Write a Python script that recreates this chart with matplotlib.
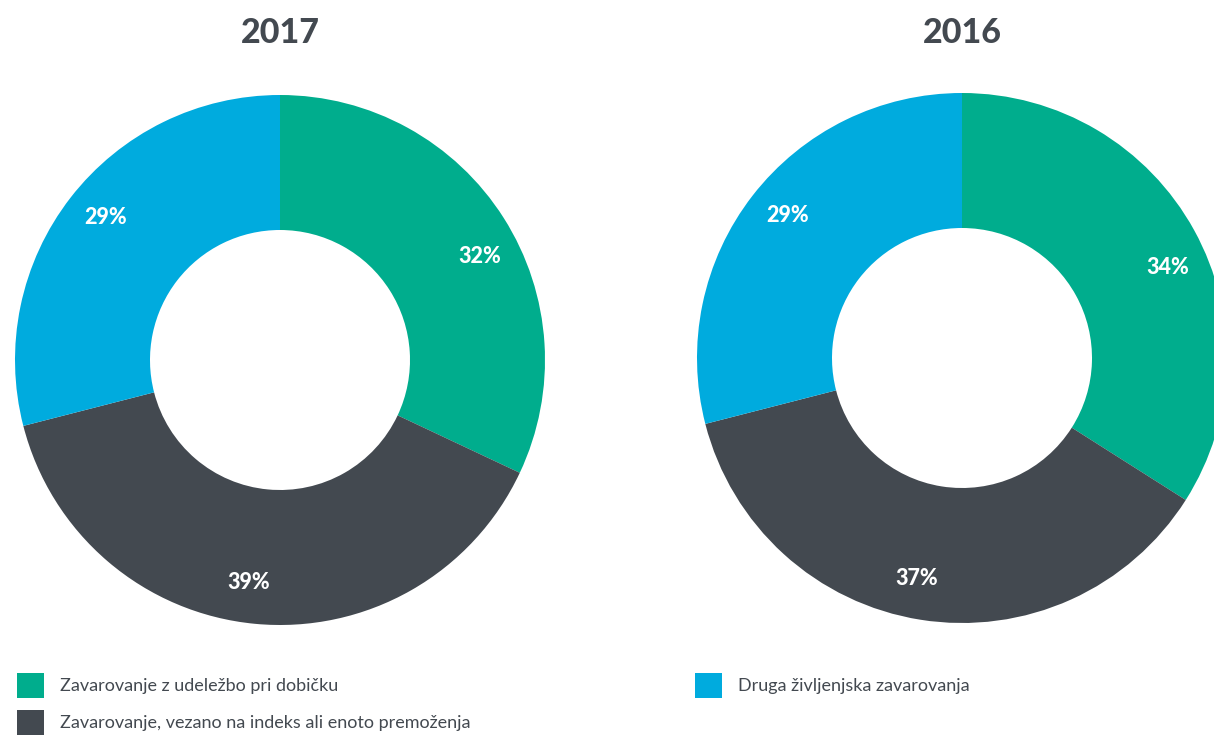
import matplotlib.pyplot as plt
import numpy as np

plt.rcParams['font.family'] = ['Lato', 'DejaVu Sans']

categories = ['Zavarovanje z udeležbo pri dobičku',
              'Zavarovanje, vezano na indeks ali enoto premoženja',
              'Druga življenjska zavarovanja']
years = ['2017', '2016']
values_2017 = [32, 39, 29]
values_2016 = [34, 37, 29]

colors = ['#00ad8d', '#434950', '#00abde']
text_col = '#434950'

W, H = 1214, 736
fig = plt.figure(figsize=(W / 100, H / 100), dpi=100)
ax = fig.add_axes([0, 0, 1, 1])

R = 265
ring = 135
centers = [(280, H - 360), (962, H - 358)]
label_shift = [-5, -2.5, -1.5]   # small angular nudges (degrees) for labels

all_wedges = []
for year, vals, c in zip(years, [values_2017, values_2016], centers):
    wedges, _ = ax.pie(vals, colors=colors, startangle=90, counterclock=False,
                       radius=R, center=c,
                       wedgeprops=dict(width=ring, linewidth=0))
    all_wedges.append(wedges)
    # percentage labels along each wedge's middle angle
    for w, v, s in zip(wedges, vals, label_shift):
        mid = np.deg2rad((w.theta1 + w.theta2) / 2 + s)
        d = 225
        ax.text(c[0] + d * np.cos(mid), c[1] + d * np.sin(mid), f'{v}%',
                ha='center', va='center', color='white',
                fontsize=15.5, fontweight='black')
    ax.text(c[0], H - 33, year, ha='center', va='center', color=text_col,
            fontsize=24.5, fontweight='black')

ax.set_xlim(0, W)
ax.set_ylim(0, H)
ax.set_aspect('equal')
ax.axis('off')

leg_kw = dict(frameon=False, fontsize=13, handlelength=1.5, handleheight=1.75,
              handletextpad=0.9, labelspacing=0.67, borderpad=0,
              borderaxespad=0, loc='upper left', labelcolor=text_col)
w0 = all_wedges[0]
fig.legend([w0[0], w0[1]], categories[:2],
           bbox_to_anchor=(17 / W, 1 - 673 / H), **leg_kw)
fig.legend([w0[2]], categories[2:],
           bbox_to_anchor=(695 / W, 1 - 673 / H), **leg_kw)

fig.savefig('out.png', dpi=100)
